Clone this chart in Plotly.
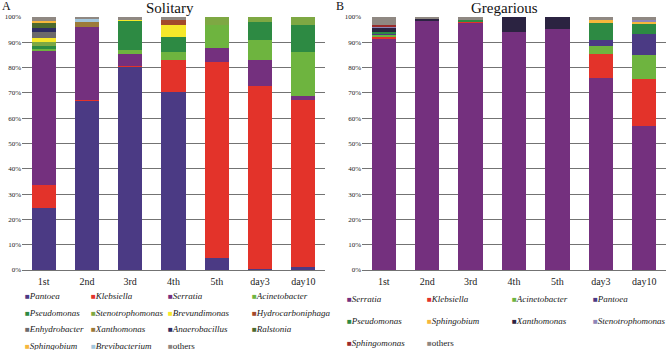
import plotly.graph_objects as go

categories = ["1st", "2nd", "3rd", "4th", "5th", "day3", "day10"]

# Panel A - Solitary (percent)
sol_genera = ["Pantoea", "Klebsiella", "Serratia", "Acinetobacter", "Pseudomonas",
              "Stenotrophomonas", "Brevundimonas", "Hydrocarboniphaga", "Enhydrobacter",
              "Xanthomonas", "Anaerobacillus", "Ralstonia", "Sphingobium", "Brevibacterium", "others"]
sol_pantoea = [24.4, 66.8, 80.4, 70.4, 4.6, 0.4, 1.0]
sol_klebsiella = [9.3, 0.5, 0.4, 12.5, 77.8, 72.3, 66.2]
sol_serratia = [53.0, 28.7, 4.6, 0, 5.5, 10.2, 1.7]
sol_acinetobacter = [0.8, 0, 1.6, 3.4, 9.0, 8.1, 17.4]
sol_pseudomonas = [1.2, 0, 11.7, 5.6, 0, 6.9, 10.4]
sol_stenotrophomonas = [1.6, 0, 0, 0, 3.1, 2.1, 3.3]
sol_brevundimonas = [1.4, 0, 0.3, 5.0, 0, 0, 0]
sol_hydrocarboniphaga = [0, 0, 0, 2.0, 0, 0, 0]
sol_enhydrobacter = [2.4, 0, 0, 0, 0, 0, 0]
sol_xanthomonas = [0, 2.1, 0, 0, 0, 0, 0]
sol_anaerobacillus = [1.6, 0, 0, 0, 0, 0, 0]
sol_ralstonia = [2.0, 0, 0, 0, 0, 0, 0]
sol_sphingobium = [0.8, 0, 0, 0, 0, 0, 0]
sol_brevibacterium = [0, 1.0, 0, 0, 0, 0, 0]
sol_others = [1.5, 0.9, 1.0, 1.1, 0, 0, 0]
sol_values = [sol_pantoea, sol_klebsiella, sol_serratia, sol_acinetobacter, sol_pseudomonas,
              sol_stenotrophomonas, sol_brevundimonas, sol_hydrocarboniphaga, sol_enhydrobacter,
              sol_xanthomonas, sol_anaerobacillus, sol_ralstonia, sol_sphingobium,
              sol_brevibacterium, sol_others]
sol_colors = ["#4b3a84", "#e3332a", "#74307e", "#6eb43f", "#2d8a43", "#7ea843", "#f6e82a",
              "#a34a2b", "#6c6a6b", "#9c7b39", "#2e2d62", "#4d6a2c", "#f6b73c", "#a2c6dc", "#8f8882"]

# Panel B - Gregarious (percent)
gre_genera = ["Serratia", "Klebsiella", "Acinetobacter", "Pantoea", "Pseudomonas",
              "Sphingobium", "Xanthomonas", "Stenotrophomonas", "Sphingomonas", "others"]
gre_serratia = [91.3, 98.5, 97.7, 93.9, 95.3, 75.8, 56.9]
gre_klebsiella = [1.0, 0, 0.4, 0, 0, 9.6, 18.4]
gre_acinetobacter = [0.7, 0, 0, 0, 0, 3.0, 9.8]
gre_pantoea = [0.4, 0, 0, 0, 0, 2.4, 8.3]
gre_pseudomonas = [0.6, 0, 0.9, 0, 0, 6.8, 3.9]
gre_sphingobium = [0, 0, 0, 0, 0, 1.3, 1.1]
gre_xanthomonas = [1.9, 0.9, 0, 6.1, 4.7, 0, 0]
gre_stenotrophomonas = [0.3, 0, 0, 0, 0, 0, 0.3]
gre_sphingomonas = [0.7, 0, 0, 0, 0, 0, 0]
gre_others = [3.1, 0.6, 1.0, 0, 0, 1.1, 1.3]
gre_values = [gre_serratia, gre_klebsiella, gre_acinetobacter, gre_pantoea, gre_pseudomonas,
              gre_sphingobium, gre_xanthomonas, gre_stenotrophomonas, gre_sphingomonas, gre_others]
gre_colors = ["#74307e", "#e3332a", "#6eb43f", "#4b3a84", "#2d8a43", "#f6b73c", "#2b2341",
              "#8e86b8", "#9a2b2b", "#8f8882"]

y_ticks = [0, 10, 20, 30, 40, 50, 60, 70, 80, 90, 100]
y_ticklabels = [f"{v}%" for v in y_ticks]

W, H = 666, 350
MT, MB = 17, 80
PH = H - MT - MB
FONT = "Liberation Serif"
NCOL = 4

fig = go.Figure()
layout_legends = {}
legend_counter = [0]


def next_legend_id():
    legend_counter[0] += 1
    n = legend_counter[0]
    return "legend" if n == 1 else f"legend{n}"


def label(name, color):
    txt = name if name == "others" else f"<i>{name}</i>"
    return f'<span style="color:{color};font-size:8px">■</span>{txt}'


def add_panel(genera, values, colors, xa, ya, col_px, row_px, prefix):
    for g, v, c in zip(genera, values, colors):
        grp = f"{prefix}{g}"
        fig.add_trace(go.Bar(x=categories, y=v, name=g, marker=dict(color=c, line=dict(width=0)),
                             xaxis=xa, yaxis=ya, showlegend=False, legendgroup=grp,
                             hovertemplate=g + ": %{y}%<extra></extra>"))
    # legend laid out as a grid: one single-entry legend per cell
    for i, (g, c) in enumerate(zip(genera, colors)):
        grp = f"{prefix}{g}"
        lid = next_legend_id()
        fig.add_trace(go.Scatter(x=[None], y=[None], mode="markers", name=label(g, c),
                                 marker=dict(size=1, color="rgba(0,0,0,0)"),
                                 xaxis=xa, yaxis=ya, legendgroup=grp,
                                 legend=lid, showlegend=True))
        cx = col_px[i % NCOL]
        ry = row_px[i // NCOL]
        layout_legends[lid] = dict(orientation="h", xref="container", yref="container",
                                   x=(cx - 25) / W, y=1 - ry / H, xanchor="left",
                                   yanchor="middle", indentation=-15,
                                   bgcolor="rgba(0,0,0,0)",
                                   font=dict(family=FONT, size=9, color="#222"))


add_panel(sol_genera, sol_values, sol_colors, "x", "y",
          [25, 91, 168, 252], [295, 312, 328, 345], "A")
add_panel(gre_genera, gre_values, gre_colors, "x2", "y2",
          [347, 427, 512, 593], [298, 320, 342], "B")

axis_common = dict(showgrid=False, showline=False, zeroline=False, ticks="",
                   ticklabelstandoff=4, automargin=False,
                   tickfont=dict(family=FONT, size=10, color="#222"))
yaxis_common = dict(range=[0, 100], tickvals=y_ticks, ticktext=y_ticklabels, showgrid=True,
                    gridcolor="#737373", gridwidth=1.2, zeroline=True, zerolinecolor="#737373",
                    zerolinewidth=1.2, showline=False, ticks="", automargin=False,
                    tickfont=dict(family=FONT, size=7, color="#222"))


def py(pixel_y):
    return (H - MB - pixel_y) / PH


layout = dict(
    width=W, height=H, margin=dict(l=0, r=0, t=MT, b=MB, autoexpand=False),
    paper_bgcolor="white", plot_bgcolor="white", barmode="stack", bargap=0.44,
    font=dict(family=FONT, color="#222"),
    xaxis=dict(domain=[22 / W, 325 / W], anchor="y", **axis_common),
    yaxis=dict(domain=[0, 1], anchor="x", **yaxis_common),
    xaxis2=dict(domain=[362 / W, 1.0], anchor="y2", **axis_common),
    yaxis2=dict(domain=[0, 1], anchor="x2", **yaxis_common),
    annotations=[
        dict(text="A", x=0 / W, y=py(-3), xref="paper", yref="paper", xanchor="left",
             yanchor="top", showarrow=False, font=dict(family=FONT, size=12, color="#111")),
        dict(text="Solitary", x=170 / W, y=py(8), xref="paper", yref="paper",
             xanchor="center", yanchor="middle", showarrow=False,
             font=dict(family=FONT, size=15, color="#111")),
        dict(text="B", x=334 / W, y=py(-3), xref="paper", yref="paper", xanchor="left",
             yanchor="top", showarrow=False, font=dict(family=FONT, size=12, color="#111")),
        dict(text="Gregarious", x=505 / W, y=py(8), xref="paper", yref="paper",
             xanchor="center", yanchor="middle", showarrow=False,
             font=dict(family=FONT, size=15, color="#111")),
    ],
)
layout.update(layout_legends)

fig.update_layout(**layout)
fig.write_html("out.html")
